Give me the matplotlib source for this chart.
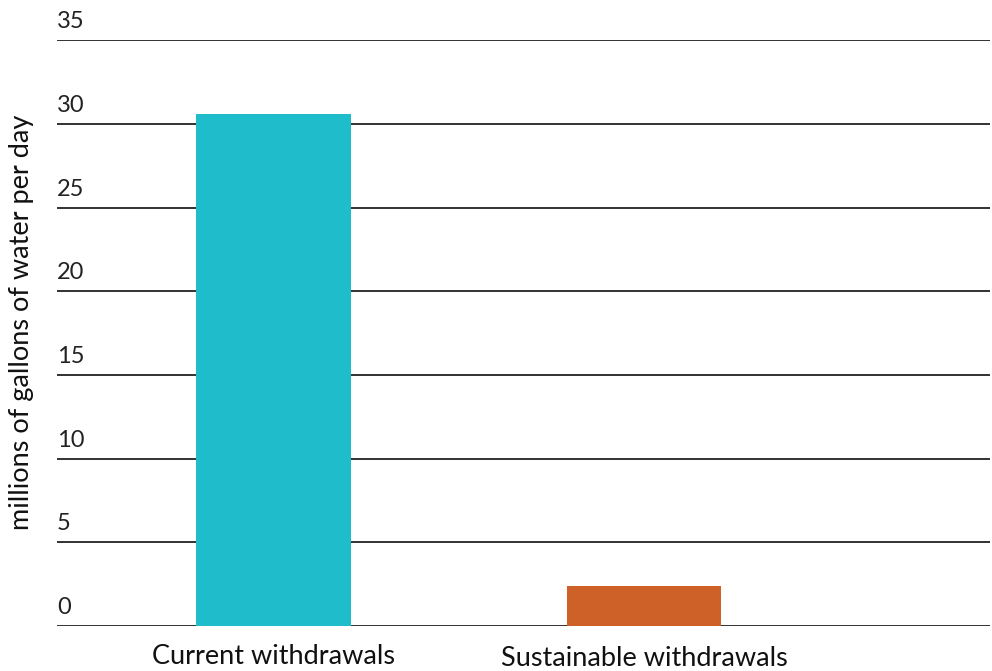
import matplotlib.pyplot as plt
import matplotlib.transforms as mtransforms

categories = ['Current withdrawals', 'Sustainable withdrawals']
values = [30.6, 2.4]
colors = ['#1FBCCB', '#CE6128']
yticks = [0, 5, 10, 15, 20, 25, 30, 35]

plt.rcParams['font.family'] = ['Lato', 'DejaVu Sans']

fig = plt.figure(figsize=(9.92, 6.71), dpi=100)
ax = fig.add_axes([0.0575, 0.067, 0.9405, 0.873])

ax.bar(range(len(categories)), values, width=0.418, color=colors, zorder=3)
ax.set_xlim(-0.584, 1.934)
ax.set_ylim(0, 35)

# horizontal gridlines
for t in yticks:
    ax.axhline(t, color='#222222', lw=1.3, zorder=2)

# tick labels sit above the gridlines, left aligned
trans = mtransforms.blended_transform_factory(ax.transAxes, ax.transData)
lift = mtransforms.ScaledTranslation(0, 0.08, fig.dpi_scale_trans)
for t in yticks:
    ax.text(0, t, str(t), transform=trans + lift, ha='left', va='bottom',
            fontsize=17, color='#222222')

ax.set_yticks([])
ax.set_xticks(range(len(categories)))
ax.set_xticklabels(categories, fontsize=19.5, color='#111111')
ax.tick_params(axis='x', length=0, pad=13)
for lab, dy in zip(ax.get_xticklabels(), [0, -2]):
    lab.set_transform(lab.get_transform() + mtransforms.ScaledTranslation(0, dy / 100, fig.dpi_scale_trans))

for s in ax.spines.values():
    s.set_visible(False)

fig.text(0.022, 0.52, 'millions of gallons of water per day', rotation=90,
         ha='center', va='center', fontsize=19.5, color='#111111')

fig.savefig('out.png', dpi=100)
